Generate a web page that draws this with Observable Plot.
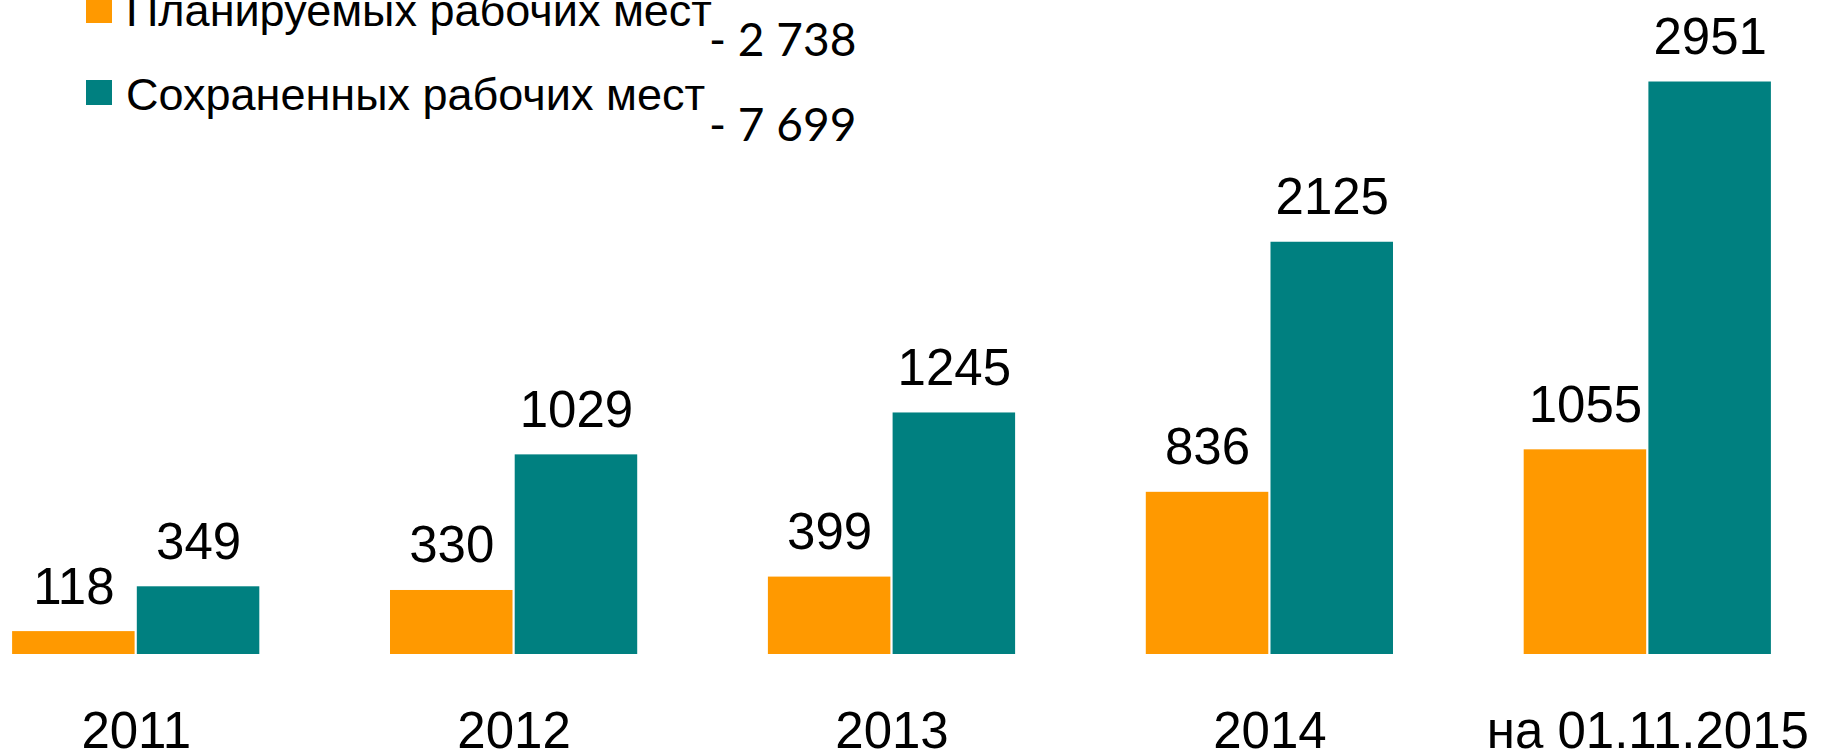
<!DOCTYPE html>
<html>
<head>
<meta charset="utf-8">
<script src="https://cdn.jsdelivr.net/npm/d3@7"></script>
<script src="https://cdn.jsdelivr.net/npm/@observablehq/plot@0.6"></script>
<style>
  html, body { margin: 0; padding: 0; background: #ffffff; }
  #wrap { position: relative; width: 1823px; height: 750px; overflow: hidden; }
  #legend { position: absolute; left: 0; top: 0; width: 1823px; height: 200px; pointer-events: none; }
  .sw { position: absolute; width: 26px; height: 25px; }
  .lt { position: absolute; font-family: "Liberation Sans", Arial, sans-serif; font-size: 45px; line-height: 45px; color: #000; white-space: nowrap; }
  .tot { position: absolute; font-family: Lato, "Open Sans", sans-serif; font-size: 46px; line-height: 46px; color: #000; white-space: nowrap; }
</style>
</head>
<body>
<div id="wrap"></div>
<script>
// ---- data ----
const periods = ["2011", "2012", "2013", "2014", "на 01.11.2015"];
const planned = [118, 330, 399, 836, 1055];
const saved = [349, 1029, 1245, 2125, 2951];
const seriesNames = ["Планируемых рабочих мест", "Сохраненных рабочих мест"];
const seriesTotals = ["- 2 738", "- 7 699"];
const seriesColors = ["#ff9900", "#008080"];

const rows = periods.flatMap((p, i) => [
  {period: p, series: seriesNames[0], value: planned[i]},
  {period: p, series: seriesNames[1], value: saved[i]}
]);

const chart = Plot.plot({
  width: 1823,
  height: 750,
  marginLeft: 11,
  marginRight: 51,
  marginTop: 72,
  marginBottom: 96,
  style: {fontFamily: "'Liberation Sans', Arial, sans-serif", background: "#ffffff", color: "#000"},
  fx: {domain: periods, paddingInner: 0.34, paddingOuter: 0, round: false, label: null},
  x: {domain: seriesNames, padding: 0, round: false, axis: null},
  y: {domain: [0, 3000], axis: null},
  color: {domain: seriesNames, range: seriesColors},
  marks: [
    Plot.barY(rows, {fx: "period", x: "series", y: "value", fill: "series", insetLeft: 1.1, insetRight: 1.1}),
    Plot.text(rows, {fx: "period", x: "series", y: "value", text: d => String(d.value),
      dy: -28, lineAnchor: "bottom", fontSize: 51, fill: "#000"}),
    Plot.axisFx({anchor: "bottom", tickSize: 0, tickPadding: 57, fontSize: 51, label: null, fill: "#000"})
  ]
});

const wrap = document.getElementById("wrap");
wrap.appendChild(chart);

// ---- legend overlay ----
const legend = document.createElement("div");
legend.id = "legend";
const swTops = [-2, 80];
const textTops = [-12, 72];
const totTops = [16, 101];
seriesNames.forEach((name, i) => {
  const sw = document.createElement("div");
  sw.className = "sw";
  sw.style.left = "86px";
  sw.style.top = swTops[i] + "px";
  sw.style.background = seriesColors[i];
  legend.appendChild(sw);
  const t = document.createElement("div");
  t.className = "lt";
  t.style.left = "126px";
  t.style.top = textTops[i] + "px";
  t.textContent = name;
  legend.appendChild(t);
  const tt = document.createElement("div");
  tt.className = "tot";
  tt.style.left = "709px";
  tt.style.top = totTops[i] + "px";
  tt.textContent = seriesTotals[i];
  legend.appendChild(tt);
});
wrap.appendChild(legend);
</script>
</body>
</html>
